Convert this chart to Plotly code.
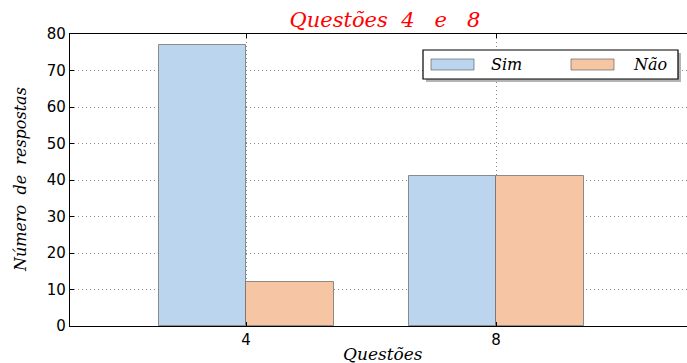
import plotly.graph_objects as go

categories = ["4", "8"]
sim_values = [77, 41]
nao_values = [12, 41]
series_names = ["Sim", "Não"]
y_ticks = [0, 10, 20, 30, 40, 50, 60, 70, 80]

W, H = 687, 363
L, R, T, B = 70, 0, 34, 37
BW = 0.35
pos = list(range(len(categories)))

blue = "#bcd5ee"
orange = "#f6c6a4"
edge = "rgba(100,100,100,0.7)"
serif = "DejaVu Serif"
sans = "DejaVu Sans"

fig = go.Figure()
fig.add_trace(go.Bar(x=pos, y=sim_values, width=BW, offset=-BW, name=series_names[0],
                     marker=dict(color=blue, line=dict(color=edge, width=1)), showlegend=False))
fig.add_trace(go.Bar(x=pos, y=nao_values, width=BW, offset=0, name=series_names[1],
                     marker=dict(color=orange, line=dict(color=edge, width=1)), showlegend=False))

pw = W - L - R
ph = H - T - B
def px(x):
    return (x - L) / pw
def py(y):
    return (H - y - B) / ph

shapes = []
annotations = []
# legend shadow and box
shapes.append(dict(type="rect", xref="paper", yref="paper", x0=px(426), x1=px(681), y0=py(82), y1=py(53),
                   fillcolor="#b4b4b4", line=dict(width=0), layer="above"))
shapes.append(dict(type="rect", xref="paper", yref="paper", x0=px(423), x1=px(678), y0=py(79), y1=py(50),
                   fillcolor="white", line=dict(color="black", width=1.2), layer="above"))
for (x0, x1, tx, col, name) in [(431, 474, 489, blue, series_names[0]), (571, 614, 631, orange, series_names[1])]:
    shapes.append(dict(type="rect", xref="paper", yref="paper", x0=px(x0), x1=px(x1), y0=py(70), y1=py(59),
                       fillcolor=col, line=dict(color=edge, width=1), layer="above"))
    annotations.append(dict(xref="paper", yref="paper", x=px(tx), y=py(64.5), xanchor="left", yanchor="middle",
                            text="<i>" + name + "</i>", showarrow=False,
                            font=dict(family=serif, size=16, color="black")))

# axis titles
annotations.append(dict(xref="paper", yref="paper", x=px(383), y=py(354), xanchor="center", yanchor="middle",
                        text="<i>Questões</i>", showarrow=False,
                        font=dict(family=serif, size=17, color="black")))
annotations.append(dict(xref="paper", yref="paper", x=px(20), y=py(180), xanchor="center", yanchor="middle",
                        text="<i>Número\u00a0\u00a0de\u00a0\u00a0respostas</i>", textangle=-90, showarrow=False,
                        font=dict(family=serif, size=16, color="black")))

fig.update_layout(
    width=W, height=H,
    margin=dict(l=L, r=R, t=T, b=B, pad=0, autoexpand=False),
    paper_bgcolor="white", plot_bgcolor="white",
    title=dict(text="<i>Questões\u00a0\u00a04\u00a0\u00a0\u00a0e\u00a0\u00a0\u00a08</i>",
               xref="container", x=385 / W, xanchor="center",
               yref="container", y=1 - 20 / H, yanchor="middle",
               font=dict(family=serif, size=21, color="red")),
    shapes=shapes, annotations=annotations,
    bargap=0, barmode="overlay",
)
grid = dict(showgrid=True, gridcolor="#8a8a8a", griddash="1px,3px", gridwidth=1)
fig.update_xaxes(range=[-0.704, 1.764], tickvals=pos, ticktext=categories,
                 showline=True, linecolor="black", linewidth=1.2, mirror="ticks",
                 ticks="inside", ticklen=4, tickcolor="black", automargin=False,
                 tickfont=dict(family=sans, size=15, color="black"),
                 zeroline=False, **grid)
fig.update_yaxes(range=[0, 80], tickvals=y_ticks,
                 showline=True, linecolor="black", linewidth=1.2, mirror=False,
                 ticks="inside", ticklen=4, tickcolor="black", automargin=False,
                 tickfont=dict(family=sans, size=15, color="black"),
                 zeroline=False, **grid)

fig.write_html("out.html", config={"displayModeBar": False},
               post_script="document.body.style.margin='0';document.body.style.overflow='hidden';")
